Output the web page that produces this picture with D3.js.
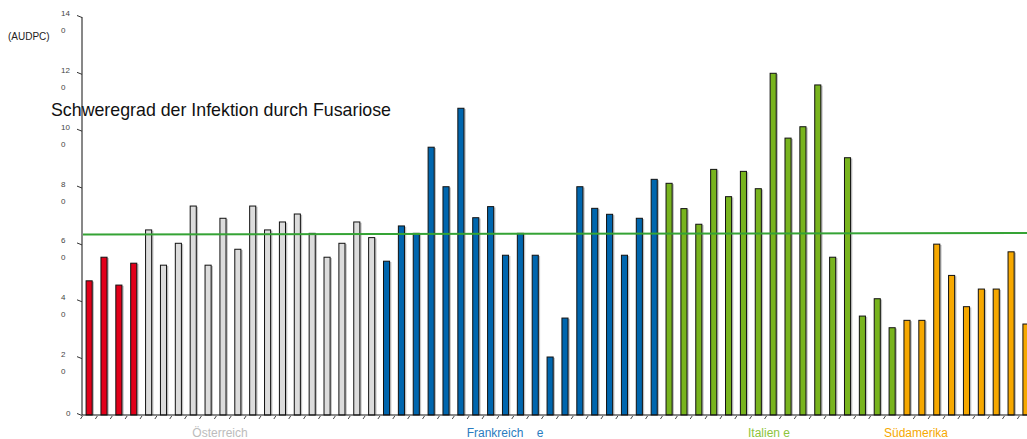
<!DOCTYPE html>
<html>
<head>
<meta charset="utf-8">
<script src="https://cdn.jsdelivr.net/npm/d3@7"></script>
<style>
  body { margin: 0; background: #fff; }
  svg { display: block; font-family: "Liberation Sans", Arial, sans-serif; }
</style>
</head>
<body>
<svg id="chart" width="1027" height="439"></svg>
<script>
// AUDPC values per line
const oesterreich = [47.2, 55.5, 45.7, 53.4, 65.1, 52.7, 60.4, 73.5, 52.7, 69.2, 58.3, 73.5, 65.1, 67.9, 70.7, 63.9, 55.5, 60.4, 67.9, 62.4];
const frankreich = [54.1, 66.5, 63.9, 94.2, 80.3, 107.9, 69.4, 73.3, 56.2, 63.9, 56.2, 20.4, 34.1, 80.3, 72.7, 70.6, 56.2, 69.2, 82.9];
const italien = [81.5, 72.6, 67.1, 86.4, 76.8, 85.7, 79.6, 120.2, 97.4, 101.4, 116.1, 55.5, 90.5, 34.8, 40.9, 30.7];
const suedamerika = [33.3, 33.3, 60.1, 49.1, 38.1, 44.3, 44.3, 57.4, 32.0];

const groups = ['Österreich', 'Frankreich    e', 'Italien e', 'Südamerika'];
const groupColors = ['#dcdcdc', '#0066ae', '#78b41e', '#f6a800'];
const labelColors = ['#bcbcbc', '#2a7cc0', '#8cc43c', '#f6a800'];
const firstRed = 4; // first four Austrian bars are red
const redColor = '#e2001a';

const yTicks = [0, 20, 40, 60, 80, 100, 120, 140];
const threshold = [63.5, 64.0]; // green reference line, left and right end

const svg = d3.select('#chart');

// flatten
const bars = [];
[oesterreich, frankreich, italien, suedamerika].forEach((arr, g) => {
  arr.forEach(v => bars.push({ g, v }));
});
bars.forEach((d, i) => { d.i = i; });

const x0 = 82, x1 = 1033.7;
const y0 = 415, yTop = 17;

const x = d3.scaleBand()
  .domain(bars.map(d => d.i))
  .range([x0, x1])
  .paddingInner(0.55)
  .paddingOuter(0.275);

const y = d3.scaleLinear().domain([0, 140]).range([y0, yTop]);
const step = x.step();

// titles (drawn first, the axis runs over it)
svg.append('text')
  .attr('x', 51).attr('y', 116)
  .attr('font-size', 17.8)
  .attr('fill', '#111')
  .text('Schweregrad der Infektion durch Fusariose');

svg.append('text')
  .attr('x', 8).attr('y', 40)
  .attr('font-size', 10)
  .attr('fill', '#222')
  .text('(AUDPC)');

// y axis
svg.append('line')
  .attr('x1', x0).attr('x2', x0)
  .attr('y1', yTop).attr('y2', y0)
  .attr('stroke', '#111').attr('stroke-width', 1);

const yt = svg.append('g').selectAll('g').data(yTicks).enter().append('g');
yt.append('line')
  .attr('x1', x0 - 5).attr('y1', d => y(d) - 1.5)
  .attr('x2', x0).attr('y2', d => y(d) + 0.5)
  .attr('stroke', '#333').attr('stroke-width', 1);
// labels are split over two lines like "14" / "0"
yt.append('text')
  .attr('x', d => d === 0 ? 66 : 61)
  .attr('y', d => y(d) + (d === 0 ? 1 : -1))
  .attr('font-size', 8)
  .attr('fill', '#444')
  .text(d => d === 0 ? '0' : String(d / 10));
yt.filter(d => d !== 0).append('text')
  .attr('x', 61)
  .attr('y', d => y(d) + 16)
  .attr('font-size', 8)
  .attr('fill', '#444')
  .text('0');

// bars: grey shadow then filled bar
const bg = svg.append('g');
bg.selectAll('rect.sh').data(bars).enter().append('rect')
  .attr('class', 'sh')
  .attr('x', d => x(d.i) + 1.2)
  .attr('y', d => y(d.v) + 0.8)
  .attr('width', x.bandwidth())
  .attr('height', d => y0 - y(d.v) - 0.8)
  .attr('fill', '#999')
  .attr('opacity', 0.6);
bg.selectAll('rect.bar').data(bars).enter().append('rect')
  .attr('class', 'bar')
  .attr('x', d => x(d.i))
  .attr('y', d => y(d.v))
  .attr('width', x.bandwidth() - 0.6)
  .attr('height', d => y0 - y(d.v))
  .attr('fill', d => (d.g === 0 && d.i < firstRed) ? redColor : groupColors[d.g])
  .attr('stroke', '#111')
  .attr('stroke-width', 1);

// x axis
svg.append('line')
  .attr('x1', x0).attr('x2', 1027)
  .attr('y1', y0).attr('y2', y0)
  .attr('stroke', '#111').attr('stroke-width', 1);

svg.append('g').selectAll('line').data(bars).enter().append('line')
  .attr('x1', d => x(d.i) - step * 0.275 - 1.5)
  .attr('y1', y0 + 4)
  .attr('x2', d => x(d.i) - step * 0.275 + 0.5)
  .attr('y2', y0 + 1)
  .attr('stroke', '#333').attr('stroke-width', 0.9);

// threshold line
svg.append('line')
  .attr('x1', x0 + 1).attr('x2', 1027)
  .attr('y1', y(threshold[0])).attr('y2', y(threshold[1]))
  .attr('stroke', '#35a335').attr('stroke-width', 2);

// group labels
const labelX = [220, 505, 769, 916];
svg.append('g').selectAll('text').data(groups).enter().append('text')
  .attr('x', (d, i) => labelX[i])
  .attr('y', 437)
  .attr('text-anchor', 'middle')
  .attr('font-size', 12)
  .attr('fill', (d, i) => labelColors[i])
  .style('white-space', 'pre')
  .text(d => d);
</script>
</body>
</html>
